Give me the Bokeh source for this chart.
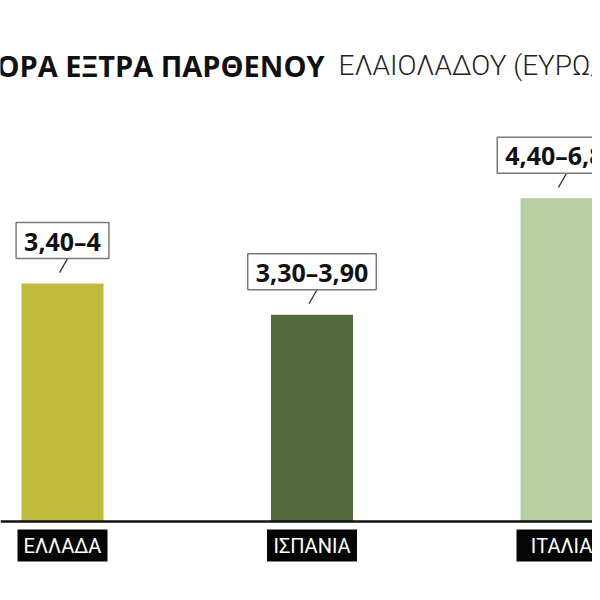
from bokeh.plotting import figure
from bokeh.models import Range1d, Label, ColumnDataSource, Span
from bokeh.core.properties import value
from bokeh.embed import file_html
from bokeh.resources import INLINE

# ---- data ----
countries = ["ΕΛΛΑΔΑ", "ΙΣΠΑΝΙΑ", "ΙΤΑΛΙΑ"]
price_low = ["3,40", "3,30", "4,40"]
price_high = ["4", "3,90", "6,80"]
bar_values = [4.13, 3.59, 5.61]          # bar heights (euro scale)
bar_colors = ["#C0BB3F", "#526A3C", "#B9CDA3"]
title_bold = "ΟΡΑ ΕΞΤΡΑ ΠΑΡΘΕΝΟΥ"
title_light = "ΕΛΑΙΟΛΑΔΟΥ (ΕΥΡΩ/"

# ---- geometry (pixels) ----
W = H = 592
STEP = 249.5     # px per category
UNIT = 57.6      # px per euro
first_center = 62.0
base_y = 521.0
x_start = -first_center / STEP
x_end = x_start + W / STEP
y_start = -(H - base_y) / UNIT
y_end = y_start + H / UNIT

xs = list(range(len(countries)))
labels = [f"{lo}–{hi}" for lo, hi in zip(price_low, price_high)]
src = ColumnDataSource(dict(
    x=xs, v=bar_values, color=bar_colors, label=labels, country=countries,
    lx0=[x + 5 / STEP for x in xs], ly0=[v + 25 / UNIT for v in bar_values],
    lx1=[x - 3 / STEP for x in xs], ly1=[v + 11 / UNIT for v in bar_values],
    cy=[-24 / UNIT for _ in xs],
))

p = figure(width=W, height=H, x_range=Range1d(x_start, x_end), y_range=Range1d(y_start, y_end),
           toolbar_location=None, output_backend="svg", min_border=0,
           x_axis_location=None, y_axis_location=None,
           background_fill_color="white", border_fill_color="white", outline_line_color=None)
p.grid.visible = False

p.vbar(x="x", top="v", bottom=0, width=82 / STEP, fill_color="color", line_color=None, source=src)
p.add_layout(Span(location=0, dimension="width", line_color="#111111", line_width=2.5))

p.segment(x0="lx0", y0="ly0", x1="lx1", y1="ly1", line_color="#333333", line_width=1.3, source=src)

p.text(x="x", y="v", text="label", y_offset=-43, text_align="center", text_baseline="middle",
       text_font=value("Open Sans"), text_font_style="bold", text_font_size="25px", text_color="#111111",
       background_fill_color="white", border_line_color="#7a7a7a", border_line_width=1.5,
       padding=dict(left=8, right=8, top=1, bottom=1), source=src)

p.rect(x="x", y="cy", width=90, height=32, width_units="screen", height_units="screen",
       fill_color="#050505", line_color=None, source=src)
p.text(x="x", y="cy", text="country", text_align="center", text_baseline="middle",
       text_font=value("Roboto"), text_font_size="20px", text_color="white", source=src)

p.add_layout(Label(x=-4, y=527, x_units="screen", y_units="screen", text=title_bold,
                   text_font="Open Sans", text_font_style="bold", text_font_size="29px",
                   text_color="#111111", text_baseline="alphabetic"))
p.add_layout(Label(x=338, y=527, x_units="screen", y_units="screen", text=title_light,
                   text_font="Roboto Light, Roboto", text_font_style="normal", text_font_size="28px",
                   text_color="#222222", text_baseline="alphabetic"))

open("out.html", "w").write(file_html(p, INLINE))
